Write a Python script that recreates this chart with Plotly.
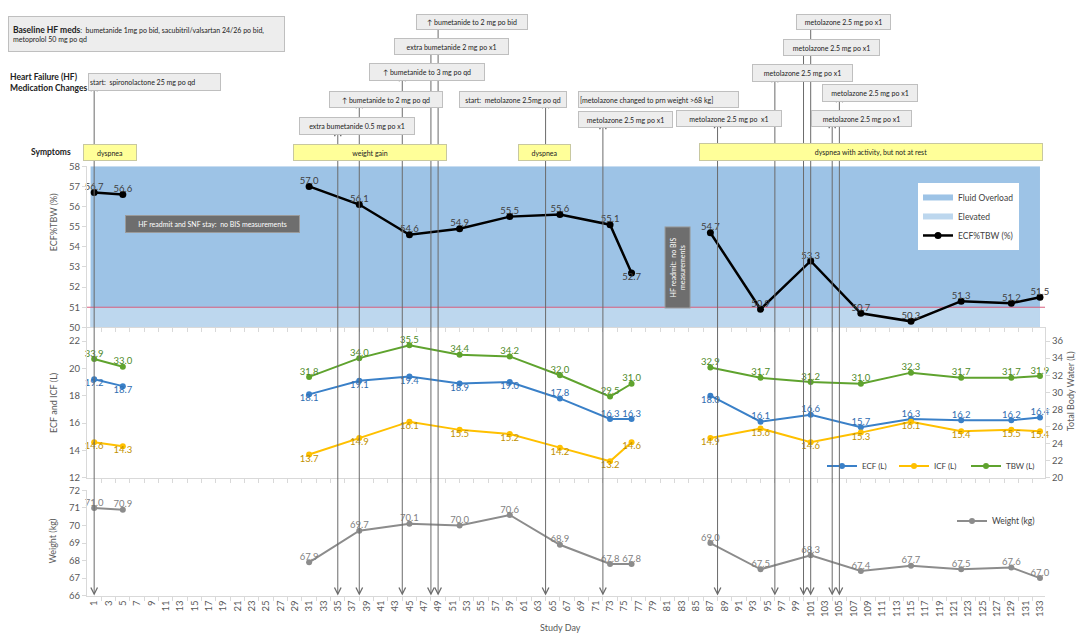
import plotly.graph_objects as go

# page is shown with an 8px body margin, so the figure is slightly smaller than the window
PAGE_OFF = 8
W, H = 1076, 625
FONT = "Lato, 'Open Sans', sans-serif"

# weekly BIS / weight measurements
days = [1, 5, 31, 38, 45, 52, 59, 66, 73, 76, 87, 94, 101, 108, 115, 122, 129, 133]
ecf_pct_tbw = [56.7, 56.6, 57.0, 56.1, 54.6, 54.9, 55.5, 55.6, 55.1, 52.7,
               54.7, 50.9, 53.3, 50.7, 50.3, 51.3, 51.2, 51.5]
ecf = [19.2, 18.7, 18.1, 19.1, 19.4, 18.9, 19.0, 17.8, 16.3, 16.3,
       18.0, 16.1, 16.6, 15.7, 16.3, 16.2, 16.2, 16.4]
icf = [14.6, 14.3, 13.7, 14.9, 16.1, 15.5, 15.2, 14.2, 13.2, 14.6,
       14.9, 15.6, 14.6, 15.3, 16.1, 15.4, 15.5, 15.4]
tbw = [33.9, 33.0, 31.8, 34.0, 35.5, 34.4, 34.2, 32.0, 29.5, 31.0,
       32.9, 31.7, 31.2, 31.0, 32.3, 31.7, 31.7, 31.9]
weight = [71.0, 70.9, 67.9, 69.7, 70.1, 70.0, 70.6, 68.9, 67.8, 67.8,
          69.0, 67.5, 68.3, 67.4, 67.7, 67.5, 67.6, 67.0]

# ECF%TBW reference bands
band_days = [0.5, 133]
fluid_overload_top = 58
elevated_top = 51

# medication changes (None = note without arrow)
med_days = [1, 35, 38, 44, 48, 49, 64, 72, None, 88, 96, 100, 101, 104, 105]
med_text = [
    "start:  spironolactone 25 mg po qd",
    "extra bumetanide 0.5 mg po x1",
    "↑ bumetanide to 2 mg po qd",
    "↑ bumetanide to 3 mg po qd",
    "extra bumetanide 2 mg po x1",
    "↑ bumetanide to 2 mg po bid",
    "start:  metolazone 2.5mg po qd",
    "metolazone 2.5 mg po x1",
    "[metolazone changed to prn weight >68 kg]",
    "metolazone 2.5 mg po  x1",
    "metolazone 2.5 mg po x1",
    "metolazone 2.5 mg po x1",
    "metolazone 2.5 mg po x1",
    "metolazone 2.5 mg po x1",
    "metolazone 2.5 mg po x1",
]
symptom_text = ["dyspnea", "weight gain", "dyspnea", "dyspnea with activity, but not at rest"]

day_ticks = list(range(1, 134, 2))

# ---- layout geometry (window pixels) ----
med_boxes = [(88, 68, 221, 86), (299, 113, 415, 131), (329, 86, 443, 103),
             (369, 58, 485, 76), (394, 32, 509, 49), (416, 8, 528, 24),
             (459, 86, 567, 103), (578, 107, 673, 124), (578, 86, 739, 103),
             (676, 106, 782, 123), (752, 59, 853, 77), (783, 33, 880, 50),
             (796, 8, 891, 24), (811, 106, 912, 123), (822, 79, 918, 97)]
med_align = ['left'] + ['center'] * 7 + ['left'] + ['center'] * 6
symptom_boxes = [(83, 140, 137, 157), (293, 140, 447, 157),
                 (518, 140, 571, 157), (699, 139, 1043, 157)]

pct_pos = ['top center'] * 9 + ['bottom center'] + ['top center'] * 8
ecf_pos = ['bottom center'] * 7 + ['top center'] * 3 + ['bottom center'] + ['top center'] * 7

X0, X1 = 87, 1045
X_MAX = 133.7
AXIS_BOTTOM = 600


def px(p):
    return (p - PAGE_OFF) / W


def py(p):
    return 1 - (p - PAGE_OFF) / H


def with_gaps(xs, ys):
    # break the line where there were no BIS measurements
    out_x, out_y = [], []
    for i, (x, y) in enumerate(zip(xs, ys)):
        if i and x - xs[i - 1] > 9:
            out_x.append(None)
            out_y.append(None)
        out_x.append(x)
        out_y.append(y)
    return out_x, out_y


def line_trace(vals, name, color, xa, ya, legend, msize=6, width=2):
    gx, gy = with_gaps(days, vals)
    return go.Scatter(x=gx, y=gy, mode='lines+markers', name=name, xaxis=xa, yaxis=ya,
                      line=dict(color=color, width=width), marker=dict(color=color, size=msize),
                      legend=legend)


def label_trace(vals, pos, color, xa, ya):
    return go.Scatter(x=days, y=vals, mode='text', text=[f'{v:.1f}' for v in vals],
                      textposition=pos, textfont=dict(color=color, size=9.5, family=FONT),
                      marker=dict(size=11), xaxis=xa, yaxis=ya, showlegend=False,
                      hoverinfo='skip', cliponaxis=False)


fig = go.Figure()

# upper panel: bands, threshold line, ECF%TBW
fig.add_trace(go.Scatter(x=band_days, y=[fluid_overload_top] * 2, mode='none', fill='tozeroy',
                         fillcolor='#9DC3E6', name='Fluid Overload', xaxis='x2', yaxis='y',
                         legend='legend'))
fig.add_trace(go.Scatter(x=band_days, y=[elevated_top] * 2, mode='none', fill='tozeroy',
                         fillcolor='#BDD7EE', name='Elevated', xaxis='x2', yaxis='y',
                         legend='legend'))
fig.add_trace(go.Scatter(x=[0, X_MAX], y=[elevated_top] * 2, mode='lines',
                         line=dict(color='#D9607E', width=1), xaxis='x2', yaxis='y',
                         showlegend=False, hoverinfo='skip'))
fig.add_trace(line_trace(ecf_pct_tbw, 'ECF%TBW (%)', '#000000', 'x2', 'y', 'legend',
                         msize=7, width=2.5))
fig.add_trace(label_trace(ecf_pct_tbw, pct_pos, '#404040', 'x2', 'y'))

# middle panel: ECF, ICF, TBW
fig.add_trace(line_trace(ecf, 'ECF (L)', '#3A80C8', 'x3', 'y2', 'legend2'))
fig.add_trace(line_trace(icf, 'ICF (L)', '#FFC000', 'x3', 'y2', 'legend2'))
fig.add_trace(line_trace(tbw, 'TBW (L)', '#5FA32E', 'x3', 'y3', 'legend2'))
fig.add_trace(label_trace(ecf, ecf_pos, '#2F6DB0', 'x3', 'y2'))
fig.add_trace(label_trace(icf, 'bottom center', '#BF9000', 'x3', 'y2'))
fig.add_trace(label_trace(tbw, 'top center', '#4E8A27', 'x3', 'y3'))

# lower panel: weight
fig.add_trace(line_trace(weight, 'Weight (kg)', '#8C8C8C', 'x', 'y4', 'legend3'))
fig.add_trace(label_trace(weight, 'top center', '#7F7F7F', 'x', 'y4'))

annotations = []

# arrows from each medication change down to the day axis
for d, b in zip(med_days, med_boxes):
    if d is None:
        continue
    annotations.append(dict(x=d, y=66, xref='x', yref='y4', ax=0, ay=-(AXIS_BOTTOM - b[3]),
                            axref='pixel', ayref='pixel', text='', showarrow=True,
                            arrowhead=5, startarrowhead=5, arrowside='end+start',
                            arrowsize=1.3, startarrowsize=1.3, arrowwidth=1,
                            arrowcolor='#6B6B6B', standoff=0, startstandoff=0))


def box(b, text, bg, border, color, size, align='center', pad=0):
    x0, y0, x1, y1 = b
    return dict(xref='paper', yref='paper', x=px(x0), y=py(y0), xanchor='left', yanchor='top',
                width=x1 - x0 - 2 * (1 + pad), height=y1 - y0 - 2 * (1 + pad),
                text=text, showarrow=False, bgcolor=bg, bordercolor=border, borderwidth=1,
                borderpad=pad, align=align, valign='middle',
                font=dict(family=FONT, size=size, color=color))


def label(text, xpx, ypx, size, color, angle=0, xanchor='center', align='center'):
    return dict(xref='paper', yref='paper', x=px(xpx), y=py(ypx), xanchor=xanchor,
                yanchor='middle', textangle=angle, align=align, showarrow=False, text=text,
                font=dict(family=FONT, size=size, color=color))


for b, t, a in zip(med_boxes, med_text, med_align):
    annotations.append(box(b, t, '#EDEDED', '#BFBFBF', '#222222', 7, a, pad=1))

for b, t in zip(symptom_boxes, symptom_text):
    annotations.append(box(b, t, '#FFFF99', '#C8C8A0', '#222222', 7))

annotations.append(box((8, 10, 285, 46),
                       "<b><span style='font-size:8.5px'>Baseline HF meds</span></b>:  "
                       "bumetanide 1mg po bid, sacubitril/valsartan 24/26 po bid,<br>"
                       "metoprolol 50 mg po qd",
                       '#EDEDED', '#BFBFBF', '#222222', 7, 'left', pad=4))

# gaps in BIS measurements
annotations.append(box((125, 213, 300, 231), "HF readmit and SNF stay:  no BIS measurements",
                       '#6E6E6E', '#9A9A9A', '#FFFFFF', 7))
annotations.append(dict(xref='paper', yref='paper', x=px(678), y=py(266), xanchor='center',
                        yanchor='middle', width=80, height=24, textangle=-90,
                        text="HF readmit:  no BIS<br>measurements", showarrow=False,
                        bgcolor='#6E6E6E', bordercolor='#9A9A9A', borderwidth=1, borderpad=0,
                        font=dict(family=FONT, size=7, color='#FFFFFF')))

# row labels
annotations.append(label("<b>Heart Failure (HF)<br>Medication Changes</b>", 8, 78, 8.5,
                         '#222222', xanchor='left', align='left'))
annotations.append(label("<b>Symptoms</b>", 29, 148, 8.5, '#222222', xanchor='left'))

# axis titles
for text, xpx, ypx in [("ECF%TBW (%)", 53, 220), ("ECF and ICF (L)", 53, 404),
                       ("Weight (kg)", 53, 545), ("Total Body Water (L)", 1070, 392)]:
    annotations.append(label(text, xpx, ypx, 9, '#595959', angle=-90))
annotations.append(label("Study Day", 560, 632, 9, '#595959'))

axis_style = dict(showgrid=False, zeroline=False, showline=True, linecolor='#D9D9D9',
                  ticks='outside', ticklen=4, tickcolor='#D9D9D9',
                  tickfont=dict(family=FONT, size=9.5, color='#595959'))
minor = dict(tickmode='array', tickvals=[d + 1 for d in day_ticks], ticks='outside',
             ticklen=4, tickcolor='#D9D9D9')
x_dom = [px(X0), px(X1)]
legend_font = dict(family=FONT, size=8.5, color='#404040')

fig.update_layout(
    width=W, height=H, margin=dict(l=0, r=0, t=0, b=0),
    paper_bgcolor='white', plot_bgcolor='white',
    font=dict(family=FONT, color='#404040'),
    xaxis=dict(domain=x_dom, range=[0, X_MAX], anchor='y4', tickmode='array',
               tickvals=day_ticks, ticktext=[str(d) for d in day_ticks], tickangle=-90,
               ticks='', minor=minor, showgrid=False, zeroline=False, showline=True,
               linecolor='#D9D9D9', tickfont=dict(family=FONT, size=9.5, color='#595959')),
    xaxis2=dict(domain=x_dom, matches='x', anchor='y', showticklabels=False, ticks='',
                minor=minor, showgrid=False, zeroline=False, showline=True, linecolor='#D9D9D9'),
    xaxis3=dict(domain=x_dom, matches='x', anchor='y2', showticklabels=False, ticks='',
                minor=minor, showgrid=False, zeroline=False, showline=True, linecolor='#D9D9D9'),
    yaxis=dict(domain=[py(327), py(163)], range=[50, 58], dtick=1, anchor='x', **axis_style),
    yaxis2=dict(domain=[py(480), py(327)], range=[12, 23], tick0=12, dtick=2, anchor='x',
                **axis_style),
    yaxis3=dict(range=[20, 37.6], tick0=20, dtick=2, overlaying='y2', side='right', anchor='x',
                **axis_style),
    yaxis4=dict(domain=[py(AXIS_BOTTOM), py(493)], range=[66, 72], dtick=1, anchor='x',
                **axis_style),
    legend=dict(x=px(918), y=py(180), xanchor='left', yanchor='top', bgcolor='white',
                font=legend_font, tracegroupgap=0, itemwidth=30),
    legend2=dict(x=px(822), y=py(468), xanchor='left', yanchor='middle', orientation='h',
                 bgcolor='rgba(0,0,0,0)', font=dict(family=FONT, size=8, color='#404040'),
                 itemwidth=30, entrywidth=27, entrywidthmode='pixels'),
    legend3=dict(x=px(952), y=py(524), xanchor='left', yanchor='middle',
                 bgcolor='rgba(0,0,0,0)', font=legend_font, itemwidth=30),
    annotations=annotations,
)

fig.write_html("out.html")
